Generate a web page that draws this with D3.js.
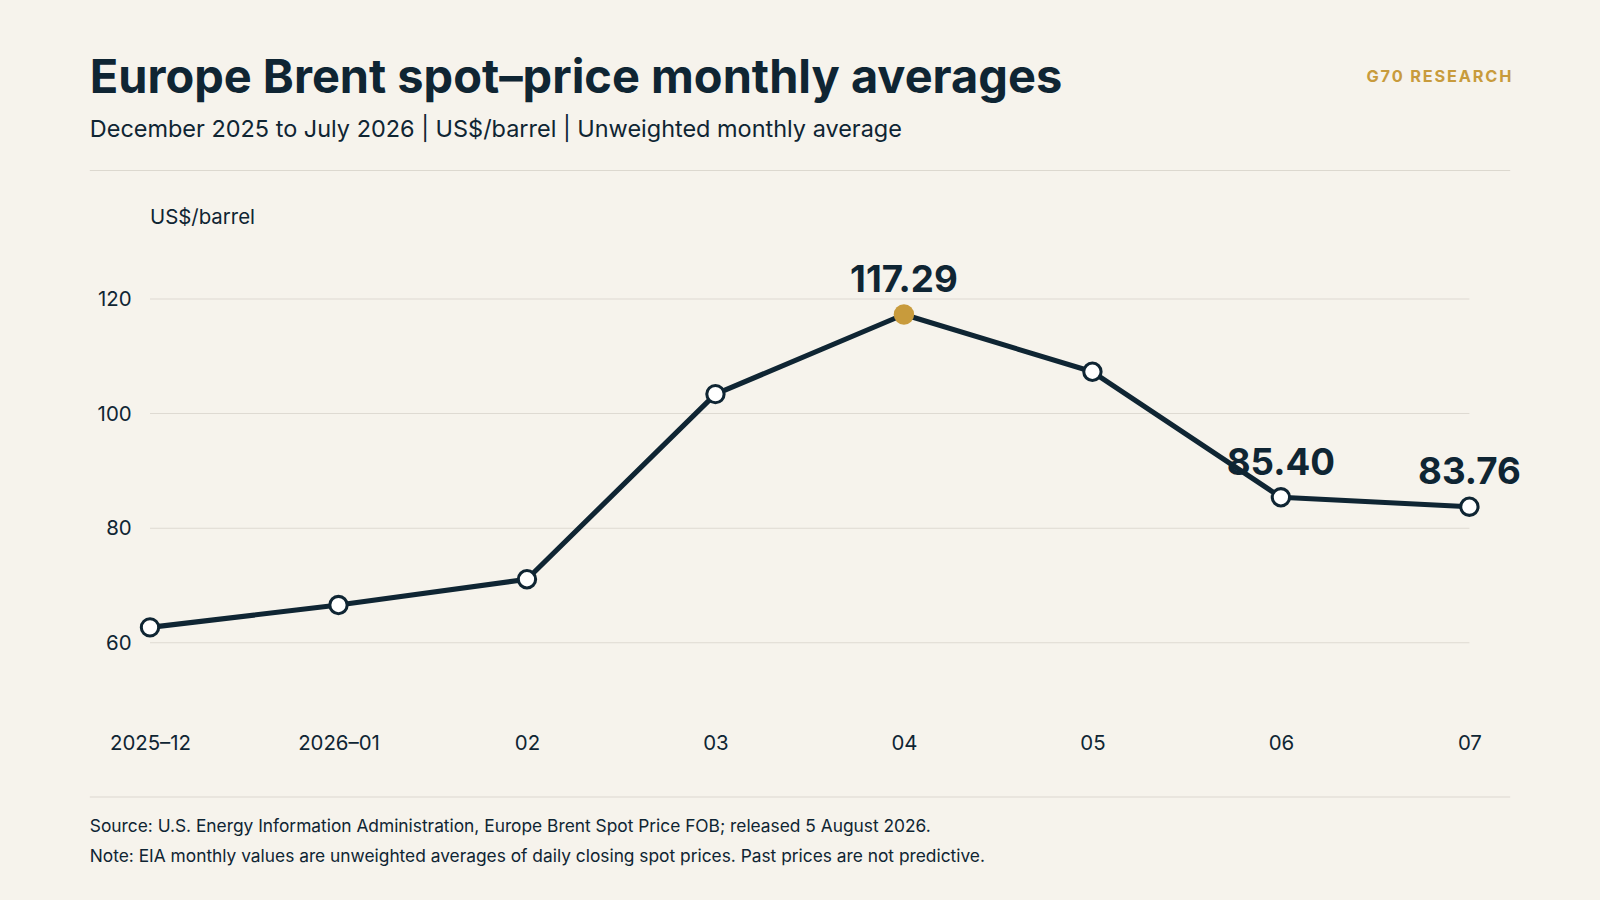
<!DOCTYPE html>
<html><head><meta charset="utf-8">
<script src="https://cdn.jsdelivr.net/npm/d3@7"></script>
<style>body{margin:0;background:#f6f3ec}svg{display:block}</style>
</head><body>
<script>
// monthly data
const months = ['2025-12', '2026-01', '02', '03', '04', '05', '06', '07'];
const prices = [62.7, 66.6, 71.1, 103.4, 117.29, 107.3, 85.40, 83.76];
const yTicks = [60, 80, 100, 120];
const labelled = {4: '117.29', 6: '85.40', 7: '83.76'};

const W = 1568, H = 882;
const svg = d3.select('body').append('svg')
  .attr('width', 1600).attr('height', 900)
  .attr('viewBox', `0 0 ${W} ${H}`)
  .style('font-family', 'Inter, "Noto Sans", sans-serif');
svg.append('rect').attr('width', W).attr('height', H).attr('fill', '#f6f3ec');

const ink = '#0f2533', gold = '#c89b3c';

// header
svg.append('text').attr('x', 88).attr('y', 91).attr('font-size', 46).attr('font-weight', 700)
  .attr('fill', ink).text('Europe Brent spot\u2013price monthly averages');
svg.append('text').attr('x', 1483).attr('y', 80).attr('text-anchor', 'end').attr('font-size', 16)
  .attr('font-weight', 700).attr('letter-spacing', 1.8).attr('fill', gold).text('G70 RESEARCH');
svg.append('text').attr('x', 88).attr('y', 134).attr('font-size', 23).attr('fill', ink)
  .text('December 2025 to July 2026 | US$/barrel | Unweighted monthly average');
svg.append('line').attr('x1', 88).attr('x2', 1480).attr('y1', 167).attr('y2', 167).attr('stroke', '#dcd8cf');
svg.append('line').attr('x1', 88).attr('x2', 1480).attr('y1', 781).attr('y2', 781).attr('stroke', '#dcd8cf');

// scales
const x = d3.scalePoint().domain(months).range([147, 1440]);
const y = d3.scaleLinear().domain([60, 120]).range([630, 293]);

svg.append('text').attr('x', 147).attr('y', 220).attr('font-size', 20).attr('fill', ink).text('US$/barrel');

// grid + y labels
const g = svg.append('g');
g.selectAll('line.grid').data(yTicks).join('line')
  .attr('x1', 147).attr('x2', 1440).attr('y1', d => y(d)).attr('y2', d => y(d))
  .attr('stroke', '#dedad2');
g.selectAll('text.yl').data(yTicks).join('text')
  .attr('x', 129).attr('y', d => y(d) + 7).attr('text-anchor', 'end')
  .attr('font-size', 20).attr('fill', ink).text(d => d);

// x axis labels
svg.append('g').attr('transform', 'translate(0,721)')
  .call(d3.axisBottom(x).tickSize(0).tickPadding(0))
  .call(a => a.select('.domain').remove())
  .selectAll('text').attr('font-size', 20).attr('fill', ink)
  .attr('font-family', 'Inter, "Noto Sans", sans-serif')
  .text(d => d.replace('-', '\u2013'));

// line
const line = d3.line().x((d, i) => x(months[i])).y(d => y(d));
svg.append('path').datum(prices).attr('d', line).attr('fill', 'none')
  .attr('stroke', ink).attr('stroke-width', 5).attr('stroke-linejoin', 'round');

svg.selectAll('circle.pt').data(prices).join('circle')
  .attr('cx', (d, i) => x(months[i])).attr('cy', d => y(d))
  .attr('r', (d, i) => i === 4 ? 10 : 8.5)
  .attr('fill', (d, i) => i === 4 ? gold : '#fff')
  .attr('stroke', (d, i) => i === 4 ? 'none' : ink).attr('stroke-width', 3);

svg.selectAll('text.vl').data(prices.map((d, i) => [d, i]).filter(p => labelled[p[1]])).join('text')
  .attr('x', p => x(months[p[1]])).attr('y', p => y(p[0]) - 22)
  .attr('text-anchor', 'middle').attr('font-size', 36).attr('font-weight', 700).attr('fill', ink)
  .text(p => labelled[p[1]]);

// footer
svg.append('text').attr('x', 88).attr('y', 815).attr('font-size', 17).attr('fill', ink)
  .text('Source: U.S. Energy Information Administration, Europe Brent Spot Price FOB; released 5 August 2026.');
svg.append('text').attr('x', 88).attr('y', 845).attr('font-size', 17).attr('fill', ink)
  .text('Note: EIA monthly values are unweighted averages of daily closing spot prices. Past prices are not predictive.');
</script>
</body></html>
